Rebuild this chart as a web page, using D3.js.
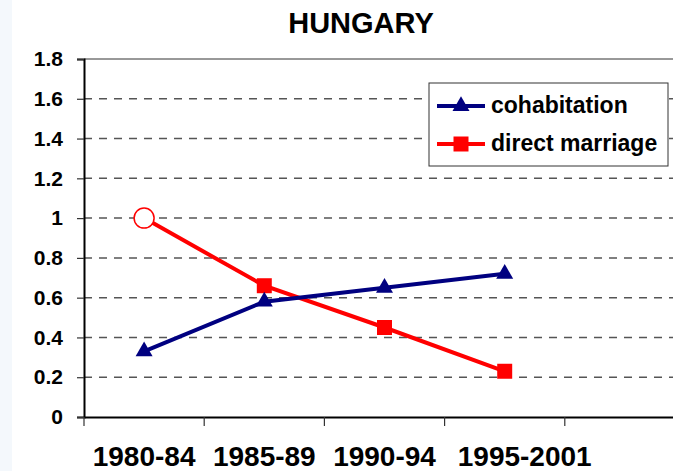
<!DOCTYPE html>
<html>
<head>
<meta charset="utf-8">
<script src="https://cdn.jsdelivr.net/npm/d3@7"></script>
<style>
  body { margin: 0; background: #fff; }
  svg { display: block; font-family: "Liberation Sans", Arial, sans-serif; font-weight: bold; }
</style>
</head>
<body>
<div id="chart"></div>
<script>
var periods = ["1980-84", "1985-89", "1990-94", "1995-2001"];
var cohabitation = [0.33, 0.58, 0.65, 0.72];
var directMarriage = [1.0, 0.66, 0.45, 0.23];
var yTicks = [0, 0.2, 0.4, 0.6, 0.8, 1, 1.2, 1.4, 1.6, 1.8];
var yTickLabels = ["0", "0.2", "0.4", "0.6", "0.8", "1", "1.2", "1.4", "1.6", "1.8"];

var width = 673, height = 471;
var svg = d3.select("#chart").append("svg")
    .attr("width", width)
    .attr("height", height);

svg.append("rect").attr("width", width).attr("height", height).attr("fill", "#fff");
svg.append("rect").attr("width", 12).attr("height", height).attr("fill", "#f4f8fc");

// Scales (plot area runs a bit past the right edge, like the original crop)
var x = d3.scaleBand()
    .domain(periods.concat([""]))
    .range([84, 685])
    .paddingInner(0).paddingOuter(0);

var y = d3.scaleLinear()
    .domain([0, 1.8])
    .range([417, 59]);

function cx(i) { return x(periods[i]) + x.bandwidth() / 2; }

// gridlines
svg.append("g")
    .selectAll("line")
    .data(yTicks.filter(function(d) { return d > 0 && d < 1.8; }))
    .join("line")
    .attr("x1", 84).attr("x2", 685)
    .attr("y1", function(d) { return y(d); })
    .attr("y2", function(d) { return y(d); })
    .attr("stroke", "#555")
    .attr("stroke-width", 1.5)
    .attr("stroke-dasharray", "8,7");

// top border of plot area
svg.append("line")
    .attr("x1", 84).attr("x2", 685)
    .attr("y1", y(1.8)).attr("y2", y(1.8))
    .attr("stroke", "#333").attr("stroke-width", 1);

// y axis
var yAxis = svg.append("g")
    .attr("transform", "translate(84,0)")
    .call(d3.axisLeft(y)
        .tickValues(yTicks)
        .tickSize(7)
        .tickPadding(14)
        .tickFormat(function(d, i) { return yTickLabels[i]; }));
yAxis.select(".domain").attr("stroke", "#000").attr("stroke-width", 2);
yAxis.selectAll(".tick line").attr("stroke", "#333").attr("stroke-width", 1.2);
yAxis.selectAll("text")
    .attr("fill", "#000")
    .style("font-size", "21px")
    .style("font-family", "'Liberation Sans', Arial, sans-serif")
    .style("font-weight", "bold");

// x axis
var xAxis = svg.append("g")
    .attr("transform", "translate(0," + y(0) + ")")
    .call(d3.axisBottom(x)
        .tickValues(periods)
        .tickSize(0)
        .tickPadding(29)
        .tickSizeOuter(0));
xAxis.select(".domain").attr("stroke", "#000").attr("stroke-width", 2);
xAxis.selectAll("text")
    .attr("fill", "#000")
    .style("font-size", "28px")
    .style("font-family", "'Liberation Sans', Arial, sans-serif")
    .style("font-weight", "bold")
    .attr("dx", function(d) { return d === "1995-2001" ? 20 : 0; });

// x ticks on category boundaries
xAxis.selectAll("line.boundary")
    .data(x.domain())
    .join("line")
    .attr("class", "boundary")
    .attr("x1", function(d) { return x(d); })
    .attr("x2", function(d) { return x(d); })
    .attr("y1", 0).attr("y2", 9)
    .attr("stroke", "#333").attr("stroke-width", 1.2);

// lines
var line = d3.line()
    .x(function(d, i) { return cx(i); })
    .y(function(d) { return y(d); });

svg.append("path")
    .datum(directMarriage)
    .attr("fill", "none")
    .attr("stroke", "#ff0000")
    .attr("stroke-width", 4)
    .attr("d", line);

svg.append("path")
    .datum(cohabitation)
    .attr("fill", "none")
    .attr("stroke", "#000080")
    .attr("stroke-width", 4)
    .attr("d", line);

// markers
var tri = d3.symbol().type(d3.symbolTriangle).size(125);
var sq = d3.symbol().type(d3.symbolSquare).size(225);

svg.append("g")
    .selectAll("path")
    .data(directMarriage)
    .join("path")
    .filter(function(d, i) { return i > 0; })
    .attr("d", sq)
    .attr("fill", "#ff0000")
    .attr("transform", function(d, i) { return "translate(" + cx(i + 1) + "," + y(d) + ")"; });

svg.append("circle")
    .attr("cx", cx(0))
    .attr("cy", y(directMarriage[0]))
    .attr("r", 10)
    .attr("fill", "#fff")
    .attr("stroke", "#ff0000")
    .attr("stroke-width", 1.5);

svg.append("g")
    .selectAll("path")
    .data(cohabitation)
    .join("path")
    .attr("d", tri)
    .attr("fill", "#000080")
    .attr("transform", function(d, i) { return "translate(" + cx(i) + "," + y(d) + ")"; });

// title
svg.append("text")
    .attr("x", 361)
    .attr("y", 33)
    .attr("text-anchor", "middle")
    .style("font-size", "29px")
    .text("HUNGARY");

// Legend
svg.append("rect")
    .attr("x", 429).attr("y", 83)
    .attr("width", 239).attr("height", 83)
    .attr("fill", "#fff")
    .attr("stroke", "#333")
    .attr("stroke-width", 1);

var legend = [
    { name: "cohabitation", color: "#000080", sym: tri, ly: 106 },
    { name: "direct marriage", color: "#ff0000", sym: sq, ly: 144 }
];
legend.forEach(function(l) {
    svg.append("line")
        .attr("x1", 437).attr("x2", 485)
        .attr("y1", l.ly).attr("y2", l.ly)
        .attr("stroke", l.color).attr("stroke-width", 4);
    svg.append("path")
        .attr("d", l.sym)
        .attr("fill", l.color)
        .attr("transform", "translate(461," + l.ly + ")");
    svg.append("text")
        .attr("x", 491)
        .attr("y", l.ly)
        .attr("dy", "0.32em")
        .style("font-size", "23px")
        .text(l.name);
});
</script>
</body>
</html>
